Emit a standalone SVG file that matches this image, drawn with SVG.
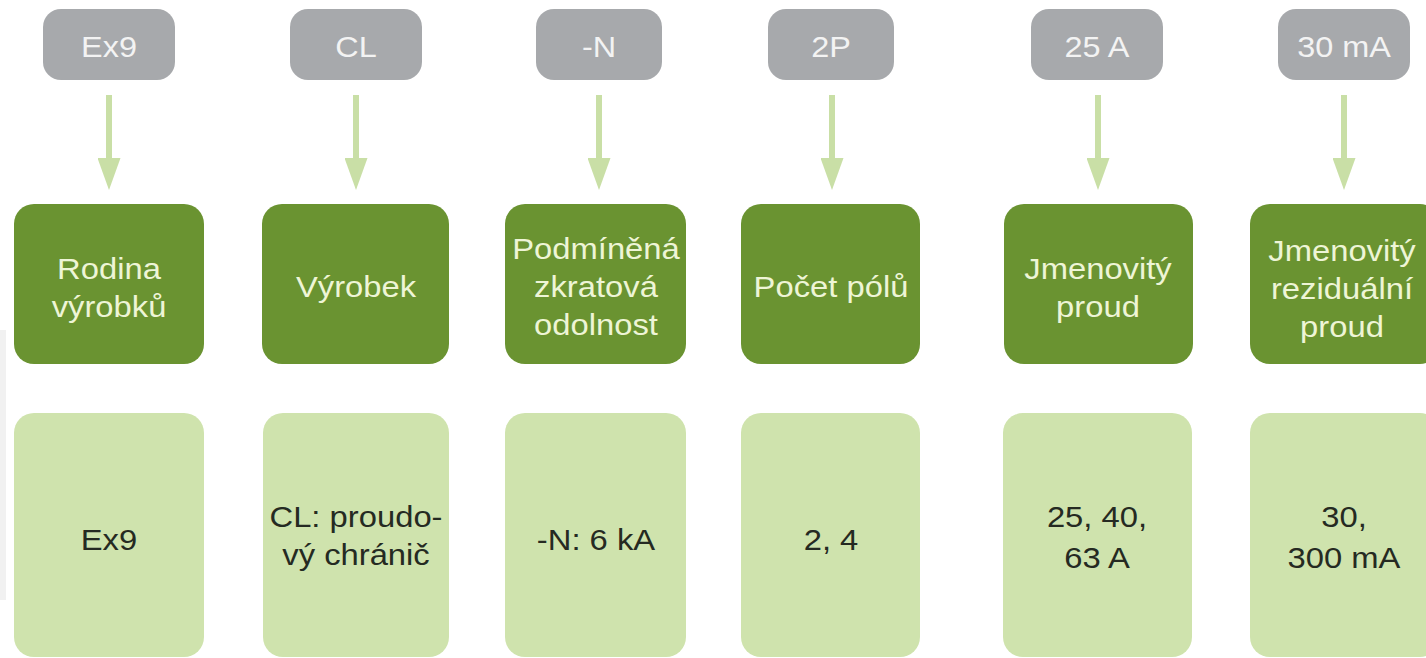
<svg xmlns="http://www.w3.org/2000/svg" width="1426" height="658" viewBox="0 0 1426 658">
<defs>
<style>
.pill{fill:#a7a9ac}
.pt{font-family:"Liberation Sans",Arial,sans-serif;font-size:30px;fill:#f3f3f3;text-anchor:middle}
.gb{fill:#6a9331}
.gt{font-family:"Liberation Sans",Arial,sans-serif;font-size:29px;fill:#eef5d6;text-anchor:middle}
.lb{fill:#cfe3ad}
.lt{font-family:"Liberation Sans",Arial,sans-serif;font-size:29px;fill:#252a22;text-anchor:middle}
.conn{stroke:#c9dfa6;stroke-width:6;fill:none}
</style>
<marker id="ah" viewBox="0 0 32 23" markerWidth="32" markerHeight="23" markerUnits="userSpaceOnUse" refX="0" refY="11.5" orient="auto">
<path d="M0,0 L32,11.5 L0,23 Z" fill="#c9dfa6"/>
</marker>
</defs>
<rect x="0" y="0" width="1426" height="658" fill="#ffffff"/>
<rect x="0" y="330" width="6" height="270" fill="#f1f1f1"/>

<g id="connectors">
<line class="conn" x1="109" y1="95" x2="109" y2="158" marker-end="url(#ah)"/>
<line class="conn" x1="356" y1="95" x2="356" y2="158" marker-end="url(#ah)"/>
<line class="conn" x1="599" y1="95" x2="599" y2="158" marker-end="url(#ah)"/>
<line class="conn" x1="832" y1="95" x2="832" y2="158" marker-end="url(#ah)"/>
<line class="conn" x1="1098" y1="95" x2="1098" y2="158" marker-end="url(#ah)"/>
<line class="conn" x1="1344" y1="95" x2="1344" y2="158" marker-end="url(#ah)"/>
</g>

<!-- Top grey pills -->
<g id="code-ex9"><rect class="pill" x="43" y="9" width="132" height="71" rx="18"/><text class="pt" transform="translate(109,0) scale(1.08,1)" x="0" y="57">Ex9</text></g>
<g id="code-cl"><rect class="pill" x="290" y="9" width="132" height="71" rx="18"/><text class="pt" transform="translate(356,0) scale(1.08,1)" x="0" y="57">CL</text></g>
<g id="code-n"><rect class="pill" x="536" y="9" width="126" height="71" rx="18"/><text class="pt" transform="translate(599,0) scale(1.08,1)" x="0" y="57">-N</text></g>
<g id="code-2p"><rect class="pill" x="768" y="9" width="126" height="71" rx="18"/><text class="pt" transform="translate(831,0) scale(1.08,1)" x="0" y="57">2P</text></g>
<g id="code-25a"><rect class="pill" x="1031" y="9" width="132" height="71" rx="18"/><text class="pt" transform="translate(1097,0) scale(1.08,1)" x="0" y="57">25 A</text></g>
<g id="code-30ma"><rect class="pill" x="1278" y="9" width="132" height="71" rx="18"/><text class="pt" transform="translate(1344,0) scale(1.08,1)" x="0" y="57">30 mA</text></g>

<!-- Dark green category boxes -->
<g id="cat-rodina"><rect class="gb" x="14" y="204" width="190" height="160" rx="20"/><text class="gt" transform="translate(109,0) scale(1.13,1)"><tspan x="0" y="279">Rodina</tspan><tspan x="0" y="317">výrobků</tspan></text></g>
<g id="cat-vyrobek"><rect class="gb" x="262" y="204" width="187" height="160" rx="20"/><text class="gt" transform="translate(356,0) scale(1.13,1)" x="0" y="297">Výrobek</text></g>
<g id="cat-podminena"><rect class="gb" x="505" y="204" width="181" height="160" rx="20"/><text class="gt" transform="translate(596,0) scale(1.13,1)"><tspan x="0" y="259">Podmíněná</tspan><tspan x="0" y="297">zkratová</tspan><tspan x="0" y="335">odolnost</tspan></text></g>
<g id="cat-pocet"><rect class="gb" x="741" y="204" width="179" height="160" rx="20"/><text class="gt" transform="translate(831,0) scale(1.13,1)" x="0" y="297">Počet pólů</text></g>
<g id="cat-jmenovity"><rect class="gb" x="1004" y="204" width="189" height="160" rx="20"/><text class="gt" transform="translate(1098,0) scale(1.13,1)"><tspan x="0" y="279">Jmenovitý</tspan><tspan x="0" y="317">proud</tspan></text></g>
<g id="cat-rezidualni"><rect class="gb" x="1250" y="204" width="190" height="160" rx="20"/><text class="gt" transform="translate(1342,0) scale(1.13,1)"><tspan x="0" y="261">Jmenovitý</tspan><tspan x="0" y="299">reziduální</tspan><tspan x="0" y="337">proud</tspan></text></g>

<!-- Light green value boxes -->
<g id="val-ex9"><rect class="lb" x="14" y="413" width="190" height="244" rx="20"/><text class="lt" transform="translate(109,0) scale(1.13,1)" x="0" y="550">Ex9</text></g>
<g id="val-cl"><rect class="lb" x="263" y="413" width="186" height="244" rx="20"/><text class="lt" transform="translate(356,0) scale(1.13,1)"><tspan x="0" y="527">CL: proudo-</tspan><tspan x="0" y="565">vý chránič</tspan></text></g>
<g id="val-n"><rect class="lb" x="505" y="413" width="181" height="244" rx="20"/><text class="lt" transform="translate(596,0) scale(1.13,1)" x="0" y="550">-N: 6 kA</text></g>
<g id="val-2p"><rect class="lb" x="741" y="413" width="179" height="244" rx="20"/><text class="lt" transform="translate(831,0) scale(1.13,1)" x="0" y="550">2, 4</text></g>
<g id="val-25a"><rect class="lb" x="1003" y="413" width="189" height="244" rx="20"/><text class="lt" transform="translate(1097,0) scale(1.13,1)"><tspan x="0" y="527">25, 40,</tspan><tspan x="0" y="568">63 A</tspan></text></g>
<g id="val-30ma"><rect class="lb" x="1250" y="413" width="190" height="244" rx="20"/><text class="lt" transform="translate(1344,0) scale(1.13,1)"><tspan x="0" y="527">30,</tspan><tspan x="0" y="568">300 mA</tspan></text></g>
</svg>
